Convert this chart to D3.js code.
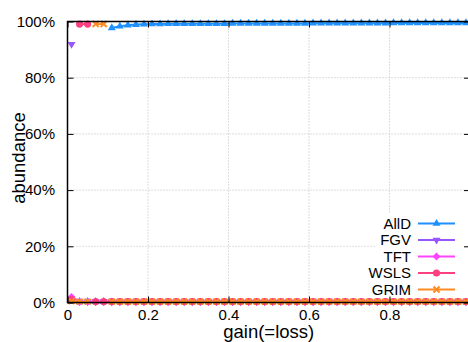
<!DOCTYPE html>
<html><head><meta charset="utf-8">
<script src="https://cdn.jsdelivr.net/npm/d3@7"></script>
<style>body{margin:0;background:#fff}svg{display:block;font-family:"Liberation Sans",Arial,sans-serif}</style>
</head><body><svg id="c" width="468" height="342"></svg>
<script>
const gains = [
  0.01,0.03,0.05,0.07,0.09,0.11,0.13,0.15,0.17,0.19,
  0.21,0.23,0.25,0.27,0.29,0.31,0.33,0.35,0.37,0.39,
  0.41,0.43,0.45,0.47,0.49,0.51,0.53,0.55,0.57,0.59,
  0.61,0.63,0.65,0.67,0.69,0.71,0.73,0.75,0.77,0.79,
  0.81,0.83,0.85,0.87,0.89,0.91,0.93,0.95,0.97,0.99];
const seriesNames = ["AllD","FGV","TFT","WSLS","GRIM"];
const allD = [
  0.3,0.3,0.3,0.3,0.3,97.7,98.3,98.7,98.9,99.0,
  99.1,99.1,99.2,99.2,99.2,99.2,99.2,99.2,99.2,99.2,
  99.3,99.3,99.3,99.3,99.3,99.3,99.3,99.3,99.3,99.3,
  99.4,99.4,99.4,99.4,99.4,99.4,99.4,99.4,99.4,99.4,
  99.5,99.5,99.5,99.5,99.5,99.5,99.5,99.5,99.5,99.5];
const fgv = [
  91.9,0.3,0.3,0.3,0.3,0.3,0.3,0.3,0.3,0.3,
  0.3,0.3,0.3,0.3,0.3,0.3,0.3,0.3,0.3,0.3,
  0.3,0.3,0.3,0.3,0.3,0.3,0.3,0.3,0.3,0.3,
  0.3,0.3,0.3,0.3,0.3,0.3,0.3,0.3,0.3,0.3,
  0.3,0.3,0.3,0.3,0.3,0.3,0.3,0.3,0.3,0.3];
const tft = [
  2.0,0.3,0.3,0.3,0.3,0.3,0.3,0.3,0.3,0.3,
  0.3,0.3,0.3,0.3,0.3,0.3,0.3,0.3,0.3,0.3,
  0.3,0.3,0.3,0.3,0.3,0.3,0.3,0.3,0.3,0.3,
  0.3,0.3,0.3,0.3,0.3,0.3,0.3,0.3,0.3,0.3,
  0.3,0.3,0.3,0.3,0.3,0.3,0.3,0.3,0.3,0.3];
const wsls = [
  1.0,99.1,99.1,0.3,0.3,0.3,0.3,0.3,0.3,0.3,
  0.3,0.3,0.3,0.3,0.3,0.3,0.3,0.3,0.3,0.3,
  0.3,0.3,0.3,0.3,0.3,0.3,0.3,0.3,0.3,0.3,
  0.3,0.3,0.3,0.3,0.3,0.3,0.3,0.3,0.3,0.3,
  0.3,0.3,0.3,0.3,0.3,0.3,0.3,0.3,0.3,0.3];
const grim = [
  0.5,0.3,0.3,99.1,99.1,0.3,0.3,0.3,0.3,0.3,
  0.3,0.3,0.3,0.3,0.3,0.3,0.3,0.3,0.3,0.3,
  0.3,0.3,0.3,0.3,0.3,0.3,0.3,0.3,0.3,0.3,
  0.3,0.3,0.3,0.3,0.3,0.3,0.3,0.3,0.3,0.3,
  0.3,0.3,0.3,0.3,0.3,0.3,0.3,0.3,0.3,0.3];
const seriesValues = [allD, fgv, tft, wsls, grim];
const colors = ["#1e90ff","#9955ff","#ff44ff","#ff4080","#ff8c22"];
const markers = ["triUp","triDown","diamond","circle","cross"];
const xTicks = [0,0.2,0.4,0.6,0.8];
const xTickLabels = ["0","0.2","0.4","0.6","0.8"];
const yTicks = [0,20,40,60,80,100];
const yTickLabels = ["0%","20%","40%","60%","80%","100%"];

const svg = d3.select("#c");
const x = d3.scaleLinear().domain([0,1]).range([67.5,470]);
const y = d3.scaleLinear().domain([0,100]).range([302.5,21.5]);

// grid
const grid = svg.append("g").attr("stroke","#bdbdbd").attr("stroke-width",1).attr("stroke-dasharray","1,2");
xTicks.filter(t=>t>0).forEach(t=>{
  grid.append("line").attr("x1",x(t)).attr("x2",x(t)).attr("y1",y(0)).attr("y2",y(100));
});
yTicks.filter(t=>t>0&&t<100).forEach(t=>{
  grid.append("line").attr("x1",x(0)).attr("x2",x(1)).attr("y1",y(t)).attr("y2",y(t));
});

function markerPath(kind){
  switch(kind){
    case "triUp": return "M0,-4.6L4,2.3L-4,2.3Z";
    case "triDown": return "M0,4.6L4,-2.3L-4,-2.3Z";
    case "diamond": return "M0,-4L4,0L0,4L-4,0Z";
    case "circle": return "M3.6,0A3.6,3.6 0 1,1 -3.6,0A3.6,3.6 0 1,1 3.6,0Z";
    case "cross": return "M-3,-3L3,3M-3,3L3,-3";
  }
}
function drawMarker(g, kind, color, px, py){
  const p = g.append("path").attr("d", markerPath(kind)).attr("transform",`translate(${px},${py})`);
  if(kind==="cross") p.attr("fill","none").attr("stroke",color).attr("stroke-width",2);
  else p.attr("fill",color).attr("stroke","none");
}

const line = d3.line().x(d=>x(d[0])).y(d=>y(d[1]));
const dataG = svg.append("g");
seriesValues.forEach((vals,si)=>{
  const pts = gains.map((g,i)=>[g, vals[i]]);
  const segs = []; let cur = [pts[0]];
  for(let i=1;i<pts.length;i++){
    if(Math.abs(pts[i][1]-pts[i-1][1])>50){ segs.push(cur); cur=[pts[i]]; }
    else cur.push(pts[i]);
  }
  segs.push(cur);
  const g = dataG.append("g");
  segs.filter(s=>s.length>1).forEach(s=>{
    g.append("path").attr("d", line(s)).attr("fill","none").attr("stroke",colors[si]).attr("stroke-width",2);
  });
  pts.forEach(p=>drawMarker(g, markers[si], colors[si], x(p[0]), y(p[1])));
});

// legend
const leg = svg.append("g");
leg.append("rect").attr("x",376).attr("y",213).attr("width",89).attr("height",84).attr("fill","#fff");
seriesNames.forEach((n,i)=>{
  const ly = 223.5 + i*16.5;
  leg.append("text").attr("x",411).attr("y",ly).attr("dy","0.35em").attr("text-anchor","end")
    .attr("font-size",15).attr("fill","#000").text(n);
  leg.append("line").attr("x1",418).attr("x2",455).attr("y1",ly).attr("y2",ly)
    .attr("stroke",colors[i]).attr("stroke-width",2);
  drawMarker(leg, markers[i], colors[i], 436.5, ly);
});

// axes (inward ticks, mirrored)
function styleAxis(g){
  g.select(".domain").remove();
  g.attr("font-size",15).attr("font-family",'"Liberation Sans",Arial,sans-serif');
  g.selectAll(".tick line").attr("stroke","#000");
  g.selectAll(".tick text").attr("fill","#000");
}
svg.append("g").attr("transform",`translate(0,${y(0)})`)
  .call(d3.axisBottom(x).tickValues(xTicks).tickSize(-6).tickPadding(6.5).tickFormat((d,i)=>xTickLabels[i]))
  .call(styleAxis);
svg.append("g").attr("transform",`translate(0,${y(100)})`)
  .call(d3.axisTop(x).tickValues(xTicks).tickSize(-6).tickFormat(""))
  .call(styleAxis);
svg.append("g").attr("transform",`translate(${x(0)},0)`)
  .call(d3.axisLeft(y).tickValues(yTicks).tickSize(-6).tickPadding(12.5).tickFormat((d,i)=>yTickLabels[i]))
  .call(styleAxis);
svg.append("g").attr("transform",`translate(${x(1)},0)`)
  .call(d3.axisRight(y).tickValues(yTicks).tickSize(-6).tickFormat(""))
  .call(styleAxis);

// border
svg.append("rect").attr("x",x(0)).attr("y",y(100)).attr("width",x(1)-x(0)).attr("height",y(0)-y(100))
  .attr("fill","none").attr("stroke","#000").attr("stroke-width",1.5);

// titles
svg.append("text").attr("x",(x(0)+x(1))/2).attr("y",338).attr("text-anchor","middle")
  .attr("font-size",18.5).attr("fill","#000").text("gain(=loss)");
svg.append("text").attr("transform",`translate(24.5,158) rotate(-90)`).attr("text-anchor","middle")
  .attr("font-size",18.5).attr("fill","#000").text("abundance");
</script></body></html>
